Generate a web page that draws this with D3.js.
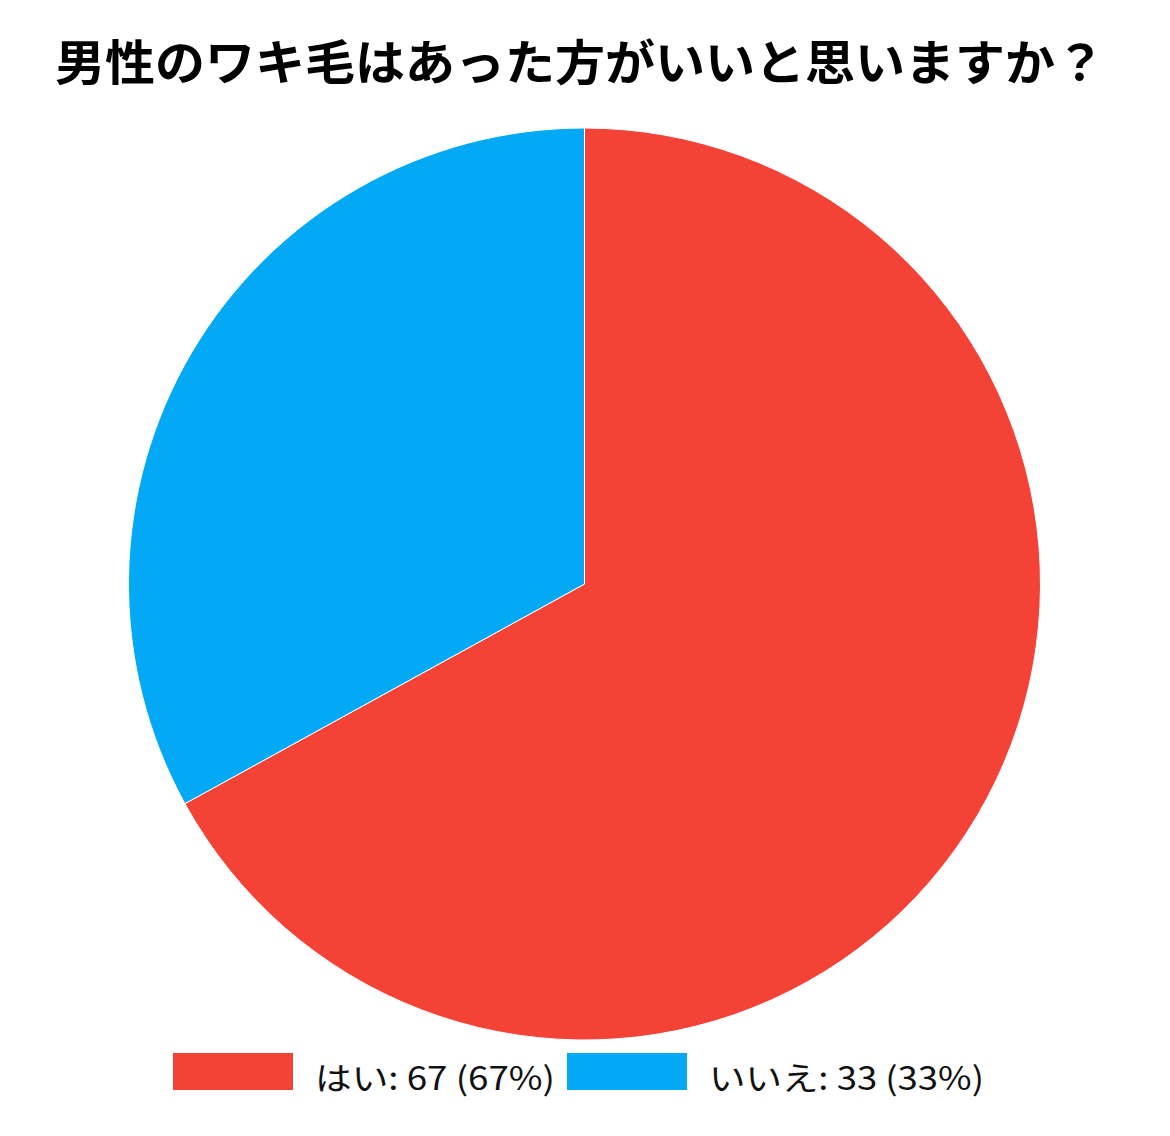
<!DOCTYPE html>
<html><head><meta charset="utf-8">
<script src="https://cdn.jsdelivr.net/npm/d3@7"></script>
<style>html,body{margin:0;padding:0;background:#fff;}</style>
</head><body>
<script>
const categories = ["はい", "いいえ"];
const values = [67, 33];
const colors = ["#F44336", "#03A9F4"];
const title = "男性のワキ毛はあった方がいいと思いますか？";

const W = 1170, H = 1136;
const svg = d3.select("body").append("svg").attr("width", W).attr("height", H);
const font = "'Noto Sans CJK JP', 'Noto Sans', sans-serif";

svg.append("text").attr("x", 580).attr("y", 80)
  .attr("text-anchor", "middle").attr("font-family", font)
  .attr("font-weight", "bold").attr("font-size", 48)
  .attr("textLength", 1050).attr("lengthAdjust", "spacingAndGlyphs")
  .text(title);

const cx = 584.5, cy = 584, r = 456;
const data = categories.map((c, i) => ({ c, v: values[i], color: colors[i] }));
const pie = d3.pie().value(d => d.v).sort(null);
const arc = d3.arc().innerRadius(0).outerRadius(r);
const g = svg.append("g").attr("transform", `translate(${cx},${cy})`);
g.selectAll("path").data(pie(data)).join("path")
  .attr("d", arc).attr("fill", d => d.data.color)
  .attr("stroke", "#fff").attr("stroke-width", 1);

const total = d3.sum(values);
const legX = [173, 567];
const leg = svg.append("g");
data.forEach((d, i) => {
  leg.append("rect").attr("x", legX[i]).attr("y", 1053).attr("width", 120).attr("height", 37).attr("fill", d.color);
  const label = `${d.c}: ${d.v} (${Math.round(d.v / total * 100)}%)`;
  leg.append("text").attr("x", legX[i] + 142).attr("y", 1090)
    .attr("font-family", font).attr("font-size", 32)
    .attr("textLength", i === 0 ? 240 : 275).attr("lengthAdjust", "spacingAndGlyphs")
    .attr("fill", "#111").text(label);
});
</script>
</body></html>
